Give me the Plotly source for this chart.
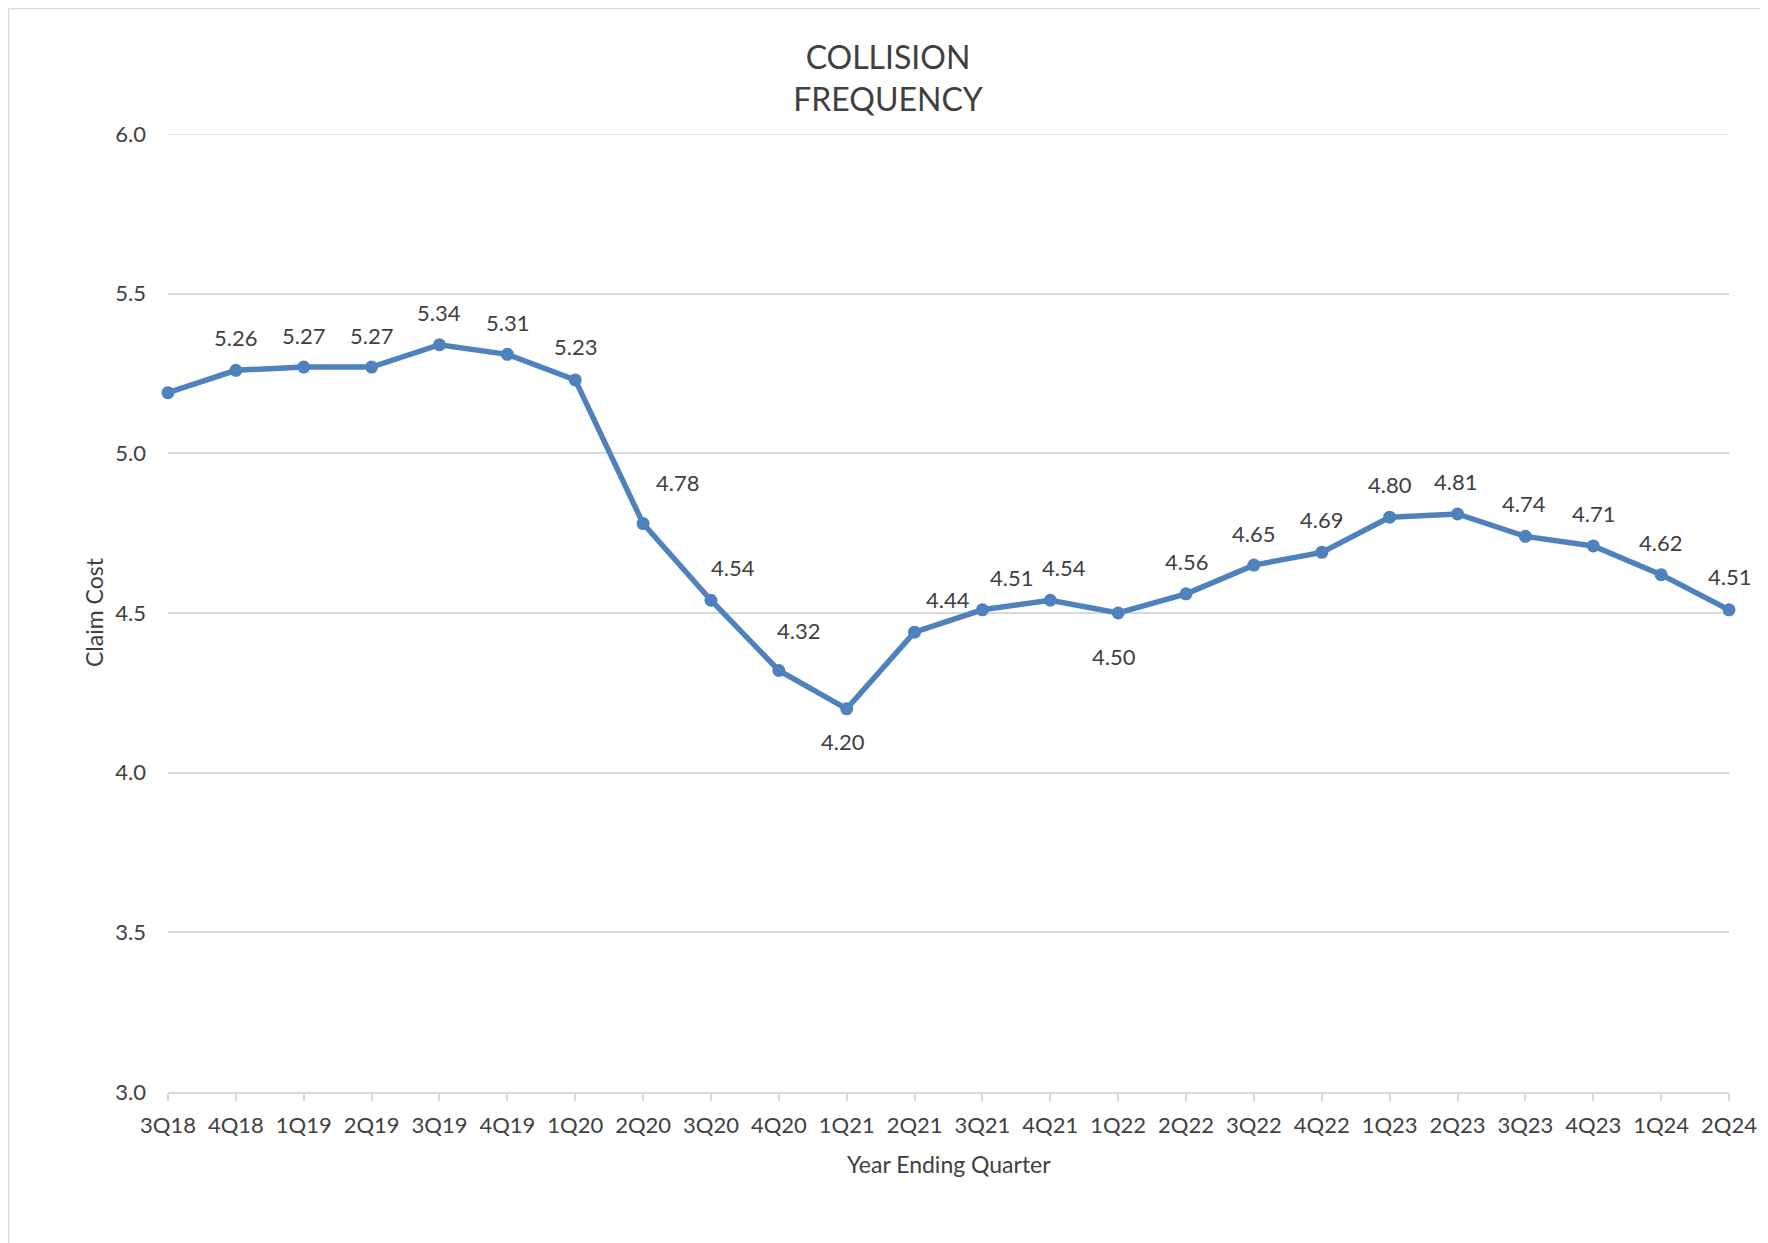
import plotly.graph_objects as go

# ---- data ----
quarters = ["3Q18", "4Q18", "1Q19", "2Q19", "3Q19", "4Q19", "1Q20", "2Q20", "3Q20", "4Q20",
            "1Q21", "2Q21", "3Q21", "4Q21", "1Q22", "2Q22", "3Q22", "4Q22", "1Q23", "2Q23",
            "3Q23", "4Q23", "1Q24", "2Q24"]
frequency = [5.19, 5.26, 5.27, 5.27, 5.34, 5.31, 5.23, 4.78, 4.54, 4.32,
             4.20, 4.44, 4.51, 4.54, 4.50, 4.56, 4.65, 4.69, 4.80, 4.81,
             4.74, 4.71, 4.62, 4.51]
show_label = [False] + [True] * 23
y_ticks = [3.0, 3.5, 4.0, 4.5, 5.0, 5.5, 6.0]

# ---- styles (label offsets in pixels: dx, dy with dy positive = up) ----
label_offsets = [(0, 32), (0, 33), (0, 32), (0, 32), (0, 32), (0, 32), (0, 33), (34, 41), (22, 33), (20, 40),
                 (-4, -33), (33, 33), (29, 32), (14, 33), (-4, -43), (0, 32), (0, 32), (0, 33), (0, 33), (-2, 33),
                 (-1, 33), (0, 32), (-1, 32), (0, 33)]

# the page has an 8px body margin; figure coordinates are page coordinates minus 8
OFF = 8
W, H = 1760, 1235
ML, MR, MT, MB = 168 - OFF, 39, 134 - OFF, 151
LINE_BLUE = "#4F81BD"
TXT = "#404040"
GRID = "#D9D9D9"
FONT = "Lato"

fig = go.Figure()
fig.add_trace(go.Scatter(
    x=list(range(len(quarters))), y=frequency, mode="lines+markers",
    line=dict(color=LINE_BLUE, width=5.5),
    marker=dict(color=LINE_BLUE, size=13),
    cliponaxis=False, hoverinfo="skip", showlegend=False,
))

annotations = []
for i, (v, s) in enumerate(zip(frequency, show_label)):
    if not s:
        continue
    dx, dy = label_offsets[i]
    annotations.append(dict(x=i, y=v, xref="x", yref="y", text=f"{v:.2f}", showarrow=False,
                            xshift=dx, yshift=dy, font=dict(family=FONT, size=22, color=TXT)))

pw = W - ML - MR
ph = H - MT - MB
def px_to_paper_x(page_px):
    return (page_px - OFF - ML) / pw
def px_to_paper_y(page_py):
    return (H - MB - (page_py - OFF)) / ph

# axis titles
annotations.append(dict(text="Year Ending Quarter", xref="paper", yref="paper",
                        x=0.5, y=px_to_paper_y(1164), xanchor="center", yanchor="middle",
                        showarrow=False, font=dict(family=FONT, size=23, color=TXT)))
annotations.append(dict(text="Claim Cost", xref="paper", yref="paper",
                        x=px_to_paper_x(94), y=px_to_paper_y(612), xanchor="center", yanchor="middle",
                        textangle=-90, showarrow=False, font=dict(family=FONT, size=23, color=TXT)))

shapes = [
    dict(type="line", xref="paper", yref="paper", x0=px_to_paper_x(8.5), x1=px_to_paper_x(W + 20),
         y0=px_to_paper_y(8.5), y1=px_to_paper_y(8.5), line=dict(color=GRID, width=1.5)),
    dict(type="line", xref="paper", yref="paper", x0=px_to_paper_x(8.5), x1=px_to_paper_x(8.5),
         y0=px_to_paper_y(8.5), y1=px_to_paper_y(H + 20), line=dict(color=GRID, width=1.5)),
    # top gridline at the upper end of the value axis
    dict(type="line", xref="paper", yref="y", x0=0, x1=1, y0=y_ticks[-1], y1=y_ticks[-1],
         line=dict(color=GRID, width=1.5), layer="below"),
]

fig.update_layout(
    width=W, height=H,
    margin=dict(l=ML, r=MR, t=MT, b=MB),
    paper_bgcolor="white", plot_bgcolor="white",
    title=dict(text="COLLISION<br>FREQUENCY", x=(888 - OFF) / W, xref="container", xanchor="center",
               y=1 - 61 / H, yref="container", yanchor="middle",
               font=dict(family=FONT, size=32, color=TXT)),
    annotations=annotations,
    shapes=shapes,
    xaxis=dict(range=[0, len(quarters) - 1], tickmode="array", tickvals=list(range(len(quarters))),
               ticktext=quarters, showgrid=False, zeroline=False,
               showline=True, linecolor=GRID, linewidth=1.5,
               ticks="outside", ticklen=7, tickcolor=GRID, tickwidth=1.5,
               ticklabelstandoff=6,
               tickfont=dict(family=FONT, size=22, color=TXT)),
    yaxis=dict(range=[3.0, 6.0], tickmode="array", tickvals=y_ticks,
               ticktext=[f"{t:.1f}" for t in y_ticks],
               showgrid=True, gridcolor=GRID, gridwidth=1.5, zeroline=False,
               showline=False, ticks="", ticklabelstandoff=21,
               tickfont=dict(family=FONT, size=22, color=TXT)),
)

fig.write_html("out.html")
